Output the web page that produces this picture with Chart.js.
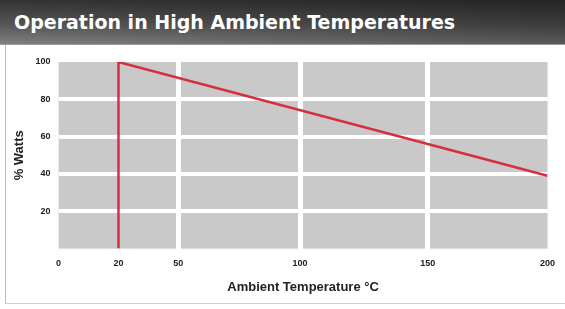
<!DOCTYPE html>
<html>
<head>
<meta charset="utf-8">
<script src="https://cdn.jsdelivr.net/npm/chart.js@4"></script>
<style>
  html, body { margin: 0; padding: 0; background: #fff; }
  #wrap { position: relative; width: 565px; height: 309px; overflow: hidden; }
  #title {
    position: absolute; left: 0; top: 0; width: 565px; height: 45px;
    background:
      linear-gradient(to right, rgba(0,0,0,0) 0%, rgba(0,0,0,0.3) 100%),
      linear-gradient(to bottom, #333 0%, #555 55%, #808080 100%);
    color: #fff; font: bold 19px "DejaVu Sans", sans-serif;
    line-height: 45px; padding-left: 14px; box-sizing: border-box;
    border-bottom: 1px solid #9a9a9a;
  }
  #frame {
    position: absolute; left: 5px; top: 45px; width: 560px; height: 258px;
    border-left: 1px solid #bdbdbd; border-bottom: 1px solid #d0d0d0;
  }
  #chartBox { position: absolute; left: 0; top: 45px; width: 565px; height: 264px; }
</style>
</head>
<body>
<div id="wrap">
  <div id="title">Operation in High Ambient Temperatures</div>
  <div id="frame"></div>
  <div id="chartBox"><canvas id="chart" width="565" height="264"></canvas></div>
</div>
<script>
  const tempC = [20, 20, 200];
  const wattsPct = [0, 100, 39];
  const xTicks = [0, 20, 50, 100, 150, 200];
  const yTicks = [20, 40, 60, 80, 100];
  const xGridAt = [50, 100, 150];
  const yGridAt = [20, 40, 60, 80];

  // the original x axis is not evenly spaced: where each tick sits, as a share of the width
  const xStops = [0, 20, 50, 100, 150, 200];
  const xShares = [0, 60 / 490, 120 / 490, 242 / 490, 370 / 490, 1];

  function interp(v, from, to) {
    if (v <= from[0]) return to[0];
    for (let i = 1; i < from.length; i++) {
      if (v <= from[i]) {
        const t = (v - from[i - 1]) / (from[i] - from[i - 1]);
        return to[i - 1] + t * (to[i] - to[i - 1]);
      }
    }
    return to[to.length - 1];
  }

  class PiecewiseScale extends Chart.LinearScale {
    getPixelForValue(value) {
      if (value === null || value === undefined) return NaN;
      return this.getPixelForDecimal(interp(value, xStops, xShares));
    }
    getValueForPixel(pixel) {
      return interp(this.getDecimalForPixel(pixel), xShares, xStops);
    }
  }
  PiecewiseScale.id = "piecewise";
  PiecewiseScale.defaults = Chart.LinearScale.defaults;
  Chart.register(PiecewiseScale);

  const plotBg = {
    id: "plotBg",
    beforeDraw(chart) {
      const { ctx, chartArea: a } = chart;
      ctx.save();
      ctx.fillStyle = "#c9c9c9";
      ctx.fillRect(a.left, a.top, a.right - a.left, a.bottom - a.top);
      ctx.restore();
    },
  };

  const tickFont = { family: "Arial, 'Liberation Sans'", size: 9, weight: "bold" };
  const titleFont = { family: "Arial, 'Liberation Sans'", size: 13, weight: "bold" };

  new Chart(document.getElementById("chart"), {
    type: "scatter",
    data: {
      datasets: [
        {
          data: tempC.map((x, i) => ({ x, y: wattsPct[i] })),
          showLine: true,
          borderColor: "#d62f40",
          borderWidth: 2.5,
          pointRadius: 0,
          tension: 0,
        },
      ],
    },
    options: {
      responsive: false,
      animation: false,
      layout: { padding: { left: 12, right: 17, top: 17, bottom: 10 } },
      plugins: { legend: { display: false }, tooltip: { enabled: false } },
      scales: {
        x: {
          type: "piecewise",
          min: 0,
          max: 200,
          afterBuildTicks: (s) => { s.ticks = xTicks.map((v) => ({ value: v })); },
          border: { display: false },
          grid: {
            color: (c) => (xGridAt.includes(c.tick?.value) ? "#ffffff" : "rgba(0,0,0,0)"),
            lineWidth: 5,
            drawTicks: false,
          },
          ticks: { color: "#222", font: tickFont, padding: 10, maxRotation: 0 },
          title: {
            display: true,
            text: "Ambient Temperature °C",
            color: "#222",
            font: titleFont,
            padding: { top: 0 },
          },
        },
        y: {
          min: 0,
          max: 100,
          afterBuildTicks: (s) => { s.ticks = yTicks.map((v) => ({ value: v })); },
          border: { display: false },
          grid: {
            color: (c) => (yGridAt.includes(c.tick?.value) ? "#ffffff" : "rgba(0,0,0,0)"),
            lineWidth: 4,
            drawTicks: false,
          },
          ticks: { color: "#222", font: tickFont, padding: 8 },
          title: {
            display: true,
            text: "% Watts",
            color: "#222",
            font: titleFont,
            padding: 0,
          },
        },
      },
    },
    plugins: [plotBg],
  });
</script>
</body>
</html>
